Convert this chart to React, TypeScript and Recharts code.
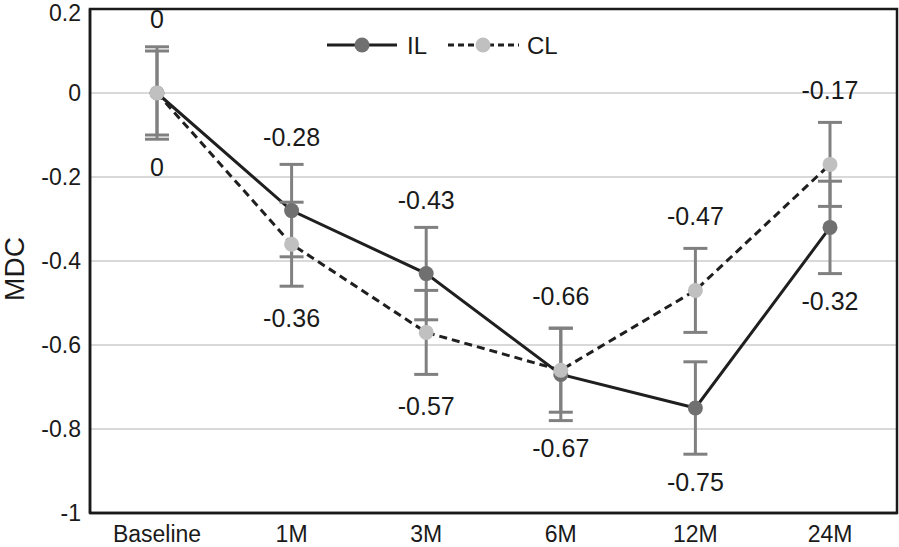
import React from "react";
import {
  LineChart,
  Line,
  XAxis,
  YAxis,
  CartesianGrid,
  ErrorBar,
  LabelList,
  Legend,
  usePlotArea,
} from "recharts";

const categories = ["Baseline", "1M", "3M", "6M", "12M", "24M"];
const ilMean = [0, -0.28, -0.43, -0.67, -0.75, -0.32];
const ilErr = [0.11, 0.11, 0.11, 0.11, 0.11, 0.11];
const clMean = [0, -0.36, -0.57, -0.66, -0.47, -0.17];
const clErr = [0.1, 0.1, 0.1, 0.1, 0.1, 0.1];
const ilSide = ["up", "up", "up", "down", "down", "down"];
const clSide = ["down", "down", "down", "up", "up", "up"];
const yTicks = [-1, -0.8, -0.6, -0.4, -0.2, 0, 0.2];

const data = categories.map((name, i) => ({
  name,
  il: ilMean[i],
  ilErr: ilErr[i],
  cl: clMean[i],
  clErr: clErr[i],
}));

const FONT = '"Liberation Sans", Arial, sans-serif';
const LABEL_GAP = 74;
const INK = "#1a1a1a";

const makeLabel = (sides: string[]) => (props: any) => {
  const { x, y, value, index } = props;
  const dy = sides[index] === "up" ? -LABEL_GAP : LABEL_GAP;
  return (
    <text
      x={x}
      y={y + dy}
      textAnchor="middle"
      dominantBaseline="central"
      fontSize={25}
      fontFamily={FONT}
      fill={INK}
    >
      {value}
    </text>
  );
};

const fmtTick = (v: number) => String(Number(v.toFixed(1)));

// black box around the plot area
function Frame() {
  const area = usePlotArea();
  if (!area) return null;
  return (
    <rect
      x={area.x}
      y={area.y}
      width={area.width}
      height={area.height}
      fill="none"
      stroke={INK}
      strokeWidth={2.5}
    />
  );
}

const LegendBox = () => (
  <svg width={260} height={30} style={{ display: "block" }}>
    <line x1={7} y1={15} x2={77} y2={15} stroke="#1f1f1f" strokeWidth={3} />
    <circle cx={42} cy={15} r={7.5} fill="#707070" />
    <text x={87} y={15} dominantBaseline="central" fontSize={24} fontFamily={FONT} fill={INK}>
      IL
    </text>
    <line x1={128} y1={15} x2={199} y2={15} stroke="#1f1f1f" strokeWidth={3} strokeDasharray="6 4" />
    <circle cx={163} cy={15} r={7.5} fill="#c0c0c0" />
    <text x={207} y={15} dominantBaseline="central" fontSize={24} fontFamily={FONT} fill={INK}>
      CL
    </text>
  </svg>
);

const MdcLabel = () => (
  <text
    x={24}
    y={269}
    transform="rotate(-90, 24, 269)"
    textAnchor="middle"
    fontSize={28}
    fontFamily={FONT}
    fill={INK}
  >
    MDC
  </text>
);

export default function App() {
  return (
    <div style={{ position: "absolute", left: 0, top: 0, background: "#fff" }}>
      <LineChart
        width={899}
        height={547}
        data={data}
        margin={{ top: 9, right: 2, left: 0, bottom: 0 }}
      >
        <CartesianGrid vertical={false} stroke="#d9d9d9" strokeWidth={2} />
        <XAxis
          dataKey="name"
          height={34}
          padding={{ left: 67, right: 67 }}
          axisLine={{ stroke: INK, strokeWidth: 2.5 }}
          tickLine={false}
          tickMargin={7}
          tick={{ fill: INK, fontSize: 23, fontFamily: FONT }}
          interval={0}
        />
        <YAxis
          width={90}
          domain={[-1, 0.2]}
          ticks={yTicks}
          tickFormatter={fmtTick}
          axisLine={{ stroke: INK, strokeWidth: 2.5 }}
          tickLine={false}
          tickMargin={3}
          tick={{ fill: INK, fontSize: 23, fontFamily: FONT }}
          label={MdcLabel}
        />
        <Legend
          verticalAlign="middle"
          layout="horizontal"
          content={<LegendBox />}
          wrapperStyle={{ top: 30, left: 320, width: 260 }}
        />
        <Line
          dataKey="il"
          stroke="#1f1f1f"
          strokeWidth={3}
          dot={{ r: 7.5, fill: "#707070", stroke: "none" }}
          activeDot={false}
          isAnimationActive={false}
        >
          <ErrorBar dataKey="ilErr" direction="y" width={12} stroke="#808080" strokeWidth={3} isAnimationActive={false} />
          <LabelList dataKey="il" content={makeLabel(ilSide)} />
        </Line>
        <Line
          dataKey="cl"
          stroke="#1f1f1f"
          strokeWidth={3}
          strokeDasharray="8 5"
          dot={{ r: 7.5, fill: "#c0c0c0", stroke: "none", strokeDasharray: "" }}
          activeDot={false}
          isAnimationActive={false}
        >
          <ErrorBar dataKey="clErr" direction="y" width={12} stroke="#808080" strokeWidth={3} isAnimationActive={false} />
          <LabelList dataKey="cl" content={makeLabel(clSide)} />
        </Line>
        <Frame />
      </LineChart>
    </div>
  );
}
